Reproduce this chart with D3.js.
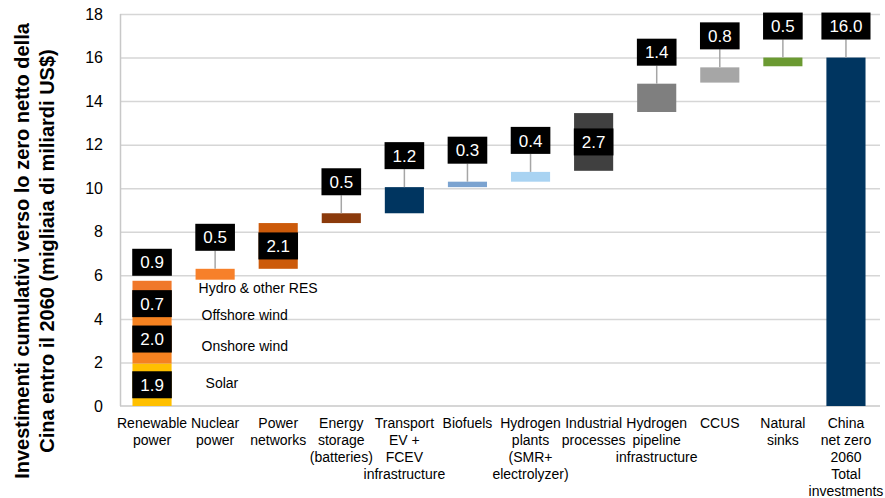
<!DOCTYPE html>
<html>
<head>
<meta charset="utf-8">
<script src="https://cdn.jsdelivr.net/npm/d3@7"></script>
<style>
  body { margin: 0; background: #fff; }
  svg { display: block; font-family: Arial, "Liberation Sans", sans-serif; }
</style>
</head>
<body>
<svg width="885" height="498"></svg>
<script>
// categories (line breaks as in the source chart)
const categories = [
  "Renewable\npower", "Nuclear\npower", "Power\nnetworks", "Energy\nstorage\n(batteries)",
  "Transport\nEV +\nFCEV\ninfrastructure", "Biofuels", "Hydrogen\nplants\n(SMR+\nelectrolyzer)",
  "Industrial\nprocesses", "Hydrogen\npipeline\ninfrastructure", "CCUS", "Natural\nsinks",
  "China\nnet zero\n2060\nTotal\ninvestments"
];

// waterfall steps (first category is drawn as a stack below)
const stepLow  = [null, 5.8, 6.3, 8.4, 8.85, 10.05, 10.3, 10.8, 13.5, 14.85, 15.6, 0];
const stepHigh = [null, 6.3, 8.4, 8.85, 10.05, 10.3, 10.75, 13.45, 14.8, 15.55, 16.0, 16.0];
const stepValues = [null, 0.5, 2.1, 0.5, 1.2, 0.3, 0.4, 2.7, 1.4, 0.8, 0.5, 16.0];

// renewable power breakdown
const resSegments = ["Solar", "Onshore wind", "Offshore wind", "Hydro & other RES"];
const resLow  = [0, 1.95, 4.2, 5.2];
const resHigh = [1.95, 4.2, 5.2, 5.75];
const resValues = [1.9, 2.0, 0.7, 0.9];

const yTicks = [0, 2, 4, 6, 8, 10, 12, 14, 16, 18];

const barColors = [null, "#F7802A", "#CC5A0A", "#8B3A0B", "#003560", "#7BA3D0",
  "#A9D3F2", "#404040", "#7F7F7F", "#A6A6A6", "#6B9A32", "#003560"];
const resColors = ["#FFC000", "#F58220", "#A84B0E", "#F0782A"];
const labelInside = new Set([2, 7]);
// nudges for the stack annotations (px)
const noteDx = [7, 3, 3, 0];
const noteDy = [3, 12, 16.5, 6.5];

const svg = d3.select("svg");
const width = +svg.attr("width");
const height = +svg.attr("height");

const margin = { top: 14, right: 5, bottom: 92, left: 120 };
const innerWidth = width - margin.left - margin.right;
const innerHeight = height - margin.top - margin.bottom;

const g = svg.append("g")
  .attr("transform", `translate(${margin.left},${margin.top})`);

const x = d3.scaleBand()
  .domain(d3.range(categories.length))
  .range([0.5, 757.5])
  .paddingInner(0.38)
  .paddingOuter(0.19);

const y = d3.scaleLinear()
  .domain([0, 18])
  .range([innerHeight, 0]);

const bw = x.bandwidth();
const cx = i => x(i) + bw / 2;

// gridlines
g.append("g")
  .attr("class", "grid")
  .call(d3.axisLeft(y).tickValues(yTicks.slice(1)).tickSize(-innerWidth).tickFormat(""))
  .call(s => s.select(".domain").remove())
  .selectAll("line")
  .attr("stroke", "#d6d6d6")
  .attr("stroke-width", 1.5);

// y axis labels
g.append("g")
  .call(d3.axisLeft(y).tickValues(yTicks).tickSize(0).tickPadding(17))
  .call(s => s.select(".domain").remove())
  .selectAll("text")
  .attr("font-size", 16)
  .attr("font-family", "Arial, 'Liberation Sans', sans-serif")
  .attr("fill", "#000");

// axis lines
g.append("line")
  .attr("x1", 0.5).attr("x2", 0.5)
  .attr("y1", 0).attr("y2", innerHeight)
  .attr("stroke", "#c8c8c8").attr("stroke-width", 1.5);

g.append("line")
  .attr("x1", 0).attr("x2", innerWidth)
  .attr("y1", innerHeight).attr("y2", innerHeight)
  .attr("stroke", "#c8c8c8").attr("stroke-width", 1.5);

// x axis labels (multi-line)
const xAxis = g.append("g")
  .attr("transform", `translate(0,${innerHeight})`)
  .call(d3.axisBottom(x).tickSize(0).tickFormat(""));
xAxis.select(".domain").remove();
xAxis.selectAll(".tick text")
  .attr("font-size", 14)
  .attr("font-family", "Arial, 'Liberation Sans', sans-serif")
  .attr("fill", "#000")
  .attr("y", 0)
  .attr("dy", null)
  .each(function(i) {
    const t = d3.select(this);
    categories[i].split("\n").forEach((line, k) => {
      t.append("tspan")
        .attr("x", 0)
        .attr("dy", k === 0 ? 22 : 17)
        .text(line);
    });
  });

// renewable stack
g.selectAll(".res-seg")
  .data(resSegments)
  .join("rect")
  .attr("class", "res-seg")
  .attr("x", x(0))
  .attr("y", (d, i) => y(resHigh[i]))
  .attr("width", bw)
  .attr("height", (d, i) => y(resLow[i]) - y(resHigh[i]))
  .attr("fill", (d, i) => resColors[i]);

g.selectAll(".res-note")
  .data(resSegments)
  .join("text")
  .attr("class", "res-note")
  .attr("x", (d, i) => x(0) + bw + 27 + noteDx[i])
  .attr("y", (d, i) => y((resLow[i] + resHigh[i]) / 2) + noteDy[i])
  .attr("font-size", 14)
  .attr("fill", "#000")
  .text(d => d);

// waterfall bars
const steps = d3.range(1, categories.length);

g.selectAll(".step")
  .data(steps)
  .join("rect")
  .attr("class", "step")
  .attr("x", i => x(i))
  .attr("y", i => y(stepHigh[i]))
  .attr("width", bw)
  .attr("height", i => y(stepLow[i]) - y(stepHigh[i]))
  .attr("fill", i => barColors[i]);

// value boxes
function valueBox(cxPos, cyPos, label) {
  const box = g.append("g");
  const txt = box.append("text")
    .attr("x", cxPos)
    .attr("y", cyPos)
    .attr("dy", "0.36em")
    .attr("text-anchor", "middle")
    .attr("font-size", 17)
    .attr("fill", "#fff")
    .text(label);
  const w = txt.node().getComputedTextLength() + 16;
  box.insert("rect", "text")
    .attr("x", cxPos - w / 2)
    .attr("y", cyPos - 13.5)
    .attr("width", w)
    .attr("height", 27)
    .attr("fill", "#000");
}

const gap = 18;
steps.forEach(i => {
  const label = stepValues[i].toFixed(1);
  if (labelInside.has(i)) {
    valueBox(cx(i), y((stepLow[i] + stepHigh[i]) / 2), label);
  } else {
    const top = y(stepHigh[i]);
    g.append("line")
      .attr("x1", cx(i)).attr("x2", cx(i))
      .attr("y1", top - gap).attr("y2", top)
      .attr("stroke", "#a6a6a6")
      .attr("stroke-width", 1.5);
    valueBox(cx(i), top - gap - 13.5, label);
  }
});

resSegments.forEach((d, i) => {
  const label = resValues[i].toFixed(1);
  if (i === resSegments.length - 1) {
    valueBox(cx(0), y(resHigh[i]) - 5 - 13.5, label);
  } else {
    valueBox(cx(0), y((resLow[i] + resHigh[i]) / 2), label);
  }
});

// y axis title
const title = svg.append("text")
  .attr("transform", `translate(29,${height / 2 + 2}) rotate(-90)`)
  .attr("text-anchor", "middle")
  .attr("font-size", 20)
  .attr("font-weight", "bold")
  .attr("fill", "#000");
title.append("tspan").attr("x", 0).attr("y", 0)
  .text("Investimenti cumulativi verso lo zero netto della");
title.append("tspan").attr("x", 0).attr("y", 25)
  .text("Cina entro il 2060 (migliaia di miliardi US$)");
</script>
</body>
</html>
